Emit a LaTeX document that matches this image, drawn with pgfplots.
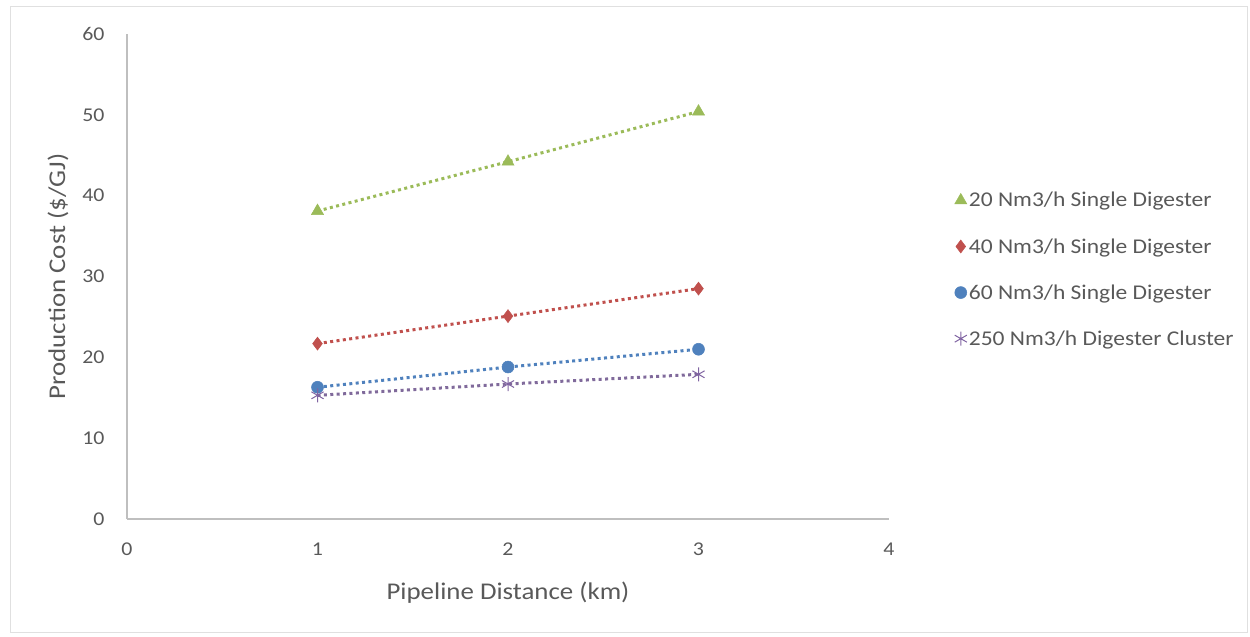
\documentclass[border=0pt]{standalone}
\usepackage{pgfplots}
\pgfplotsset{compat=1.18}
\usepackage{fontspec}
\setmainfont{Carlito}[FakeStretch=1.12]
\definecolor{txt}{HTML}{595959}
\definecolor{axl}{HTML}{BFBFBF}
\definecolor{cgreen}{HTML}{9BBB59}
\definecolor{cred}{HTML}{C0504D}
\definecolor{cblue}{HTML}{4F81BD}
\definecolor{cpurple}{HTML}{8064A2}
\begin{document}
\begin{tikzpicture}[x=1pt,y=1pt]
\path[use as bounding box] (0,0) rectangle (1250,637);
\draw[color=black!12, line width=1pt] (10,4) rectangle (1247,630);
\begin{axis}[
  at={(127pt,118pt)}, anchor=south west,
  scale only axis, width=762pt, height=485pt,
  xmin=0, xmax=4, ymin=0, ymax=60,
  xtick={0,1,2,3,4}, ytick={0,10,20,30,40,50,60},
  axis lines*=left,
  axis line style={color=axl, line width=1.2pt},
  major tick length=0pt,
  tick style={draw=none},
  ticklabel style={font=\fontsize{19.5}{22}\selectfont, text=txt},
  /pgf/number format/assume math mode=true,
  xticklabel style={yshift=-20pt},
  yticklabel style={xshift=-19pt},
  xlabel={Pipeline Distance (km)},
  ylabel={Production Cost (\$/GJ)},
  label style={font=\fontsize{24}{28}\selectfont, text=txt},
  xlabel style={yshift=-20pt},
  ylabel style={yshift=7pt},
  clip=false,
  legend style={at={(1.086,0.678)}, anchor=north west, draw=none, fill=none,
    font=\fontsize{21}{24}\selectfont, text=txt, row sep=26pt,
    /tikz/every even column/.append style={column sep=5pt},
    inner sep=0pt},
  legend cell align=left,
  every axis plot/.append style={line width=3pt, dash pattern=on 3pt off 3.4pt},
]
\addplot[color=cgreen, forget plot] coordinates {(1,38.1) (2,44.2) (3,50.4)};
\addplot[color=cred, forget plot] coordinates {(1,21.7) (2,25.1) (3,28.5)};
\addplot[color=cblue, forget plot] coordinates {(1,16.3) (2,18.8) (3,21.0)};
\addplot[color=cpurple!80!gray, forget plot] coordinates {(1,15.3) (2,16.7) (3,17.9)};
\addplot[only marks, mark=triangle*, mark size=7pt, color=cgreen, mark options={solid, line width=0.5pt}] coordinates {(1,38.1) (2,44.2) (3,50.4)};
\addlegendentry{20 Nm3/h Single Digester}
\addplot[only marks, mark=diamond*, mark size=6.5pt, color=cred, mark options={solid, line width=0.5pt}] coordinates {(1,21.7) (2,25.1) (3,28.5)};
\addlegendentry{40 Nm3/h Single Digester}
\addplot[only marks, mark=*, mark size=6pt, color=cblue, mark options={solid, line width=0.5pt}] coordinates {(1,16.3) (2,18.8) (3,21.0)};
\addlegendentry{60 Nm3/h Single Digester}
\addplot[only marks, mark=asterisk, mark size=7pt, color=cpurple, mark options={solid, line width=1pt}] coordinates {(1,15.3) (2,16.7) (3,17.9)};
\addlegendentry{250 Nm3/h Digester Cluster}
\end{axis}
\end{tikzpicture}
\end{document}
